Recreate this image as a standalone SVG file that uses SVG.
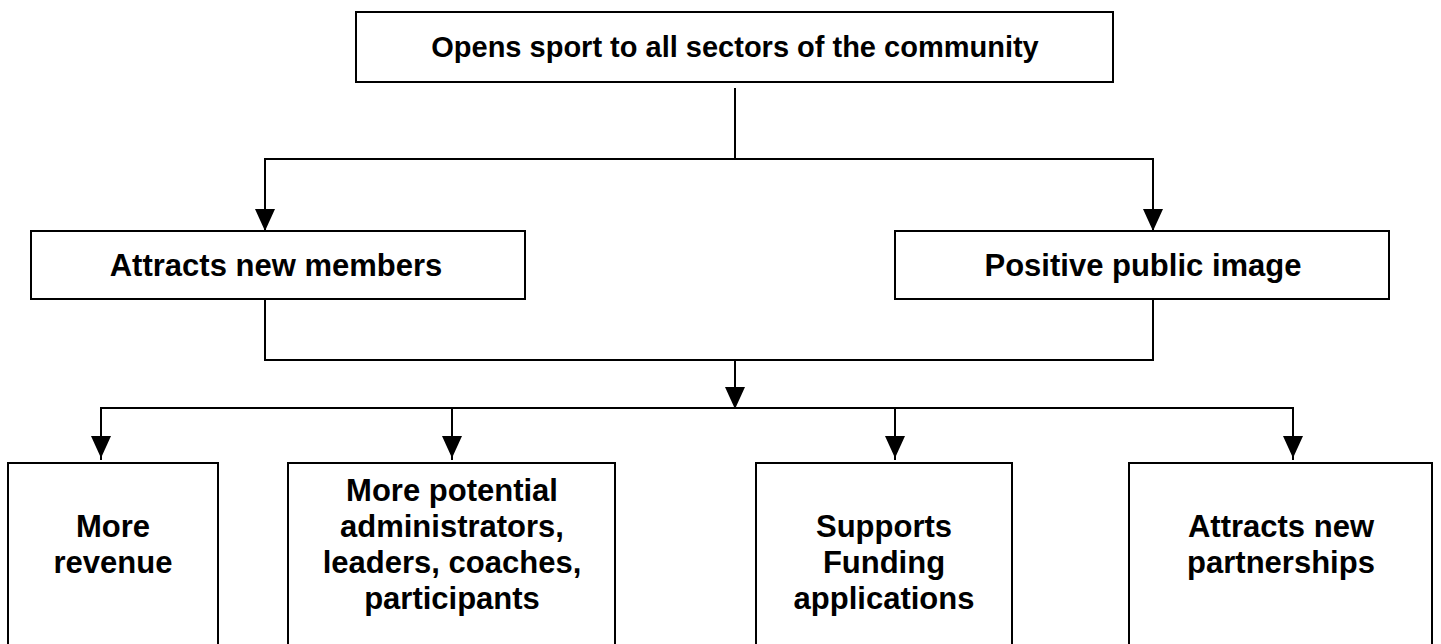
<svg xmlns="http://www.w3.org/2000/svg" width="1441" height="644" viewBox="0 0 1441 644">
<style>
.box{fill:#fff;stroke:#000;stroke-width:2}
.t{font-family:"Liberation Sans",Arial,sans-serif;font-weight:bold;font-size:31px;fill:#000;text-anchor:middle}
.ln{fill:none;stroke:#000;stroke-width:2}
</style>
<rect width="1441" height="644" fill="#fff"/>
<g id="connectors">
<line class="ln" x1="735" y1="88" x2="735" y2="159"/>
<polyline class="ln" points="265,230 265,159 1153,159 1153,230"/>
<polygon points="255,209 275,209 265,231" fill="#000"/>
<polygon points="1143,209 1163,209 1153,231" fill="#000"/>
<polyline class="ln" points="265,299 265,360 1153,360 1153,299"/>
<line class="ln" x1="735" y1="360" x2="735" y2="406"/>
<polygon points="725,387 745,387 735,409" fill="#000"/>
<polyline class="ln" points="101,460 101,408 1293,408 1293,460"/>
<line class="ln" x1="452" y1="408" x2="452" y2="460"/>
<line class="ln" x1="895" y1="408" x2="895" y2="460"/>
<polygon points="91,436 111,436 101,458" fill="#000"/>
<polygon points="442,436 462,436 452,458" fill="#000"/>
<polygon points="885,436 905,436 895,458" fill="#000"/>
<polygon points="1283,436 1303,436 1293,458" fill="#000"/>
</g>
<g id="n-top">
<rect class="box" x="356" y="12" width="757" height="70"/>
<text class="t" x="735" y="57" style="font-size:29px">Opens sport to all sectors of the community</text>
</g>
<g id="n-members">
<rect class="box" x="31" y="231" width="494" height="68"/>
<text class="t" x="276" y="276">Attracts new members</text>
</g>
<g id="n-image">
<rect class="box" x="895" y="231" width="494" height="68"/>
<text class="t" x="1143" y="276">Positive public image</text>
</g>
<g id="n-revenue">
<rect class="box" x="8" y="463" width="210" height="200"/>
<text class="t" x="113" y="537">More</text>
<text class="t" x="113" y="573">revenue</text>
</g>
<g id="n-potential">
<rect class="box" x="288" y="463" width="327" height="200"/>
<text class="t" x="452" y="501">More potential</text>
<text class="t" x="452" y="537">administrators,</text>
<text class="t" x="452" y="573">leaders, coaches,</text>
<text class="t" x="452" y="609">participants</text>
</g>
<g id="n-funding">
<rect class="box" x="756" y="463" width="256" height="200"/>
<text class="t" x="884" y="537">Supports</text>
<text class="t" x="884" y="573">Funding</text>
<text class="t" x="884" y="609">applications</text>
</g>
<g id="n-partnerships">
<rect class="box" x="1129" y="463" width="303" height="200"/>
<text class="t" x="1281" y="537">Attracts new</text>
<text class="t" x="1281" y="573">partnerships</text>
</g>
</svg>
